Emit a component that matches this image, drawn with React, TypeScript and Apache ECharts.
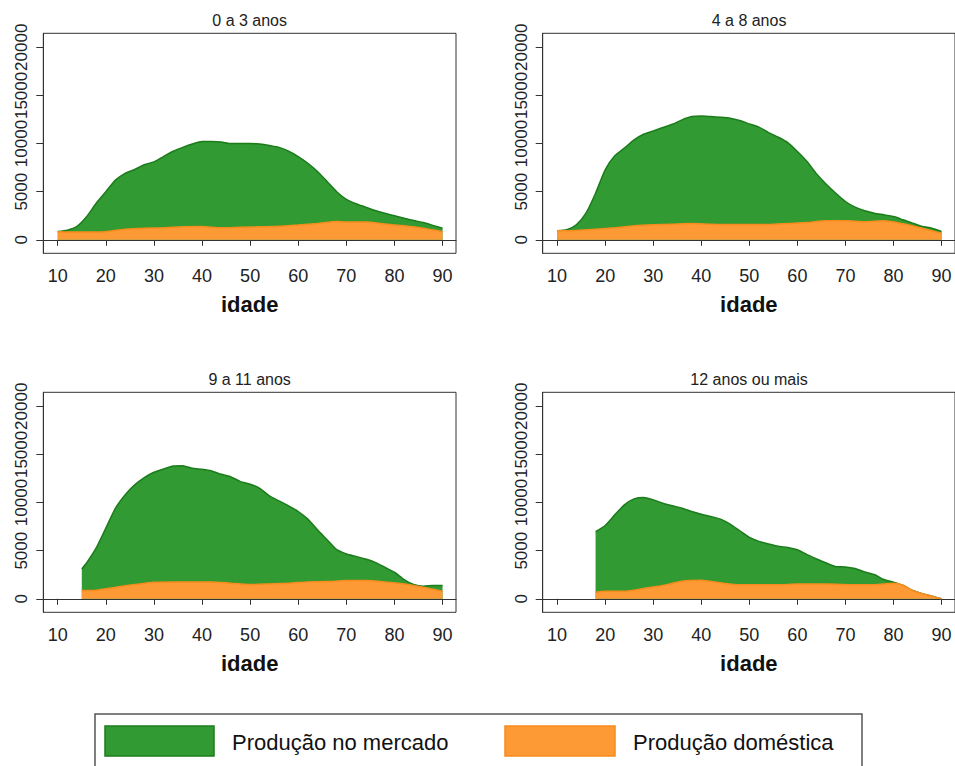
import React, { useEffect, useRef } from "react";
import * as echarts from "echarts";

const panelTitles = ["0 a 3 anos", "4 a 8 anos", "9 a 11 anos", "12 anos ou mais"];
const xTicks = [10, 20, 30, 40, 50, 60, 70, 80, 90];
const yTicks = [0, 5000, 10000, 15000, 20000];
const seriesNames = ["Produção no mercado", "Produção doméstica"];

// Panel 1: 0 a 3 anos
const agesMarket1 = [10,12,14,16,18,20,22,24,26,28,30,32,34,36,38,40,42,44,46,48,50,52,54,56,58,60,62,64,66,68,70,72,74,76,78,80,82,84,86,88,90];
const market1 = [865,1000,1400,2400,3800,5000,6200,6900,7300,7800,8100,8650,9200,9600,9950,10200,10200,10150,10000,10000,10000,9950,9800,9600,9200,8650,7950,7100,6050,5000,4200,3750,3400,3050,2750,2500,2250,2000,1800,1500,1200];
const agesHome1 = [10,14,18,20,24,28,32,36,40,44,48,52,56,60,64,68,70,74,78,82,86,90];
const home1 = [850,800,800,850,1100,1200,1250,1350,1380,1250,1300,1350,1400,1550,1700,1900,1850,1850,1650,1450,1200,850];

// Panel 2: 4 a 8 anos
const agesMarket2 = [10,12,14,16,18,20,22,24,26,28,30,32,34,36,38,40,42,44,46,48,50,52,54,56,58,60,62,64,66,68,70,72,74,76,78,80,82,84,86,88,90];
const market2 = [930,1040,1560,2770,4840,7270,8720,9520,10380,10970,11300,11660,12000,12460,12800,12870,12800,12730,12630,12390,12040,11700,11140,10660,10100,9170,8130,6850,5780,4840,3980,3390,3010,2770,2600,2420,2080,1730,1380,1210,870];
const agesHome2 = [10,14,18,22,26,30,34,38,42,46,50,54,58,62,66,70,74,78,82,86,90];
const home2 = [930,970,1100,1250,1450,1560,1630,1700,1630,1590,1590,1590,1700,1800,1970,1970,1870,1970,1660,1210,690];

// Panel 3: 9 a 11 anos
const agesMarket3 = [15,16,18,20,22,24,26,28,30,32,34,36,38,40,42,44,46,48,50,52,54,56,58,60,62,64,66,68,70,72,74,76,78,80,82,84,86,88,90];
const market3 = [3100,3720,5280,7340,9410,10790,11830,12590,13140,13480,13790,13830,13550,13450,13280,12930,12660,12170,11900,11480,10690,10170,9660,9070,8280,7170,6140,5100,4660,4410,4140,3790,3280,2760,2000,1480,1310,1380,1380];
const agesHome3 = [15,18,22,26,30,34,38,42,46,50,54,58,62,66,70,74,78,82,86,90];
const home3 = [860,900,1210,1480,1720,1760,1760,1760,1620,1480,1550,1620,1760,1790,1900,1900,1760,1550,1210,790];

// Panel 4: 12 anos ou mais
const agesMarket4 = [18,20,22,24,26,28,30,32,34,36,38,40,42,44,46,48,50,52,54,56,58,60,62,64,66,68,70,72,74,76,78,80,82,84,86,88,90];
const market4 = [6970,7620,8720,9760,10380,10520,10280,9930,9660,9410,9070,8790,8550,8280,7760,7070,6380,5970,5690,5450,5340,5100,4590,4140,3720,3340,3310,3140,2790,2520,2000,1720,1380,860,520,280,0];
const agesHome4 = [18,20,24,28,32,36,40,44,48,52,56,60,64,68,72,76,80,82,84,86,88,90];
const home4 = [690,790,790,1070,1380,1830,1930,1660,1450,1450,1450,1550,1550,1520,1450,1450,1620,1410,860,520,280,0];

const marketAges = [agesMarket1, agesMarket2, agesMarket3, agesMarket4];
const marketVals = [market1, market2, market3, market4];
const homeAges = [agesHome1, agesHome2, agesHome3, agesHome4];
const homeVals = [home1, home2, home3, home4];

const GREEN = "#319a32";
const GREEN_LINE = "#1c7c1c";
const ORANGE = "#fd9a35";
const ORANGE_LINE = "#f68c1e";
const FONT = "Liberation Sans, Arial, sans-serif";

const zip = (a: number[], b: number[]) => a.map((x, i) => [x, b[i]]);

export default function App() {
  const ref = useRef<HTMLDivElement>(null);
  useEffect(() => {
    if (!ref.current) return;
    const chart = echarts.init(ref.current, undefined, { renderer: "svg" });
    const lefts = [43.3, 542.7, 43.3, 542.7];
    const tops = [33.3, 33.3, 392.3, 392.3];
    const W = 412.7;
    const H = 220;

    const grids = lefts.map((l, i) => ({
      left: l,
      top: tops[i],
      width: W,
      height: H,
      show: true,
      borderColor: "#333",
      borderWidth: 1,
      backgroundColor: "#fff",
    }));

    const xAxes = grids.map((_, i) => ({
      type: "value",
      gridIndex: i,
      min: 7,
      max: 92.8,
      name: "idade",
      nameLocation: "middle",
      nameGap: 40,
      nameTextStyle: { fontFamily: FONT, fontSize: 22, fontWeight: "bold", color: "#111" },
      axisLine: { show: true, lineStyle: { color: "#333", width: 1 } },
      axisTick: { show: true, length: 6, customValues: xTicks, lineStyle: { color: "#333" } },
      axisLabel: {
        show: true,
        customValues: xTicks,
        margin: 14,
        showMinLabel: true,
        showMaxLabel: true,
        hideOverlap: false,
        fontFamily: FONT,
        fontSize: 18,
        color: "#222",
        formatter: (v: number) => String(v),
      },
      splitLine: { show: false },
    }));

    const yAxes = grids.map((_, i) => ({
      type: "value",
      gridIndex: i,
      min: -1400,
      max: 21450,
      axisLine: { show: true, lineStyle: { color: "#333", width: 1 } },
      axisTick: { show: true, length: 7, customValues: yTicks, lineStyle: { color: "#333" } },
      axisLabel: {
        show: true,
        customValues: yTicks,
        rotate: 90,
        margin: 13,
        showMinLabel: true,
        showMaxLabel: true,
        hideOverlap: false,
        fontFamily: FONT,
        fontSize: 17,
        lineHeight: 17,
        color: "#222",
        formatter: (v: number) => String(v),
      },
      splitLine: { show: false },
    }));

    const series: any[] = [];
    for (let i = 0; i < 4; i++) {
      series.push({
        name: seriesNames[0],
        type: "line",
        xAxisIndex: i,
        yAxisIndex: i,
        data: zip(marketAges[i], marketVals[i]),
        showSymbol: false,
        smooth: 0.2,
        lineStyle: { color: GREEN_LINE, width: 1.5 },
        areaStyle: { color: GREEN, opacity: 1 },
        z: 2,
      });
      series.push({
        name: seriesNames[1],
        type: "line",
        xAxisIndex: i,
        yAxisIndex: i,
        data: zip(homeAges[i], homeVals[i]),
        showSymbol: false,
        smooth: 0.2,
        lineStyle: { color: ORANGE_LINE, width: 1.5 },
        areaStyle: { color: ORANGE, opacity: 1 },
        z: 3,
      });
    }

    const titleGraphics = panelTitles.map((t, i) => ({
      type: "text",
      x: lefts[i] + W / 2,
      y: tops[i] - 13,
      style: {
        text: t,
        align: "center",
        verticalAlign: "middle",
        fontFamily: FONT,
        fontSize: 16,
        fill: "#222",
      },
    }));

    const legendGraphics = [
      { type: "rect", shape: { x: 95, y: 714, width: 767, height: 80 }, style: { fill: "#fff", stroke: "#555", lineWidth: 1.5 } },
      { type: "rect", shape: { x: 105, y: 726, width: 109, height: 30 }, style: { fill: GREEN, stroke: GREEN_LINE, lineWidth: 1.5 } },
      { type: "text", x: 232, y: 742, style: { text: seriesNames[0], align: "left", verticalAlign: "middle", fontFamily: FONT, fontSize: 22, fill: "#111" } },
      { type: "rect", shape: { x: 505, y: 726, width: 110, height: 30 }, style: { fill: ORANGE, stroke: ORANGE_LINE, lineWidth: 1.5 } },
      { type: "text", x: 633, y: 742, style: { text: seriesNames[1], align: "left", verticalAlign: "middle", fontFamily: FONT, fontSize: 22, fill: "#111" } },
    ];

    chart.setOption({
      animation: false,
      backgroundColor: "#fff",
      grid: grids,
      xAxis: xAxes,
      yAxis: yAxes,
      series,
      graphic: [...titleGraphics, ...legendGraphics],
    });
    return () => chart.dispose();
  }, []);
  return (
    <div
      ref={ref}
      style={{ position: "absolute", left: 0, top: 0, width: 955, height: 766 }}
    />
  );
}
